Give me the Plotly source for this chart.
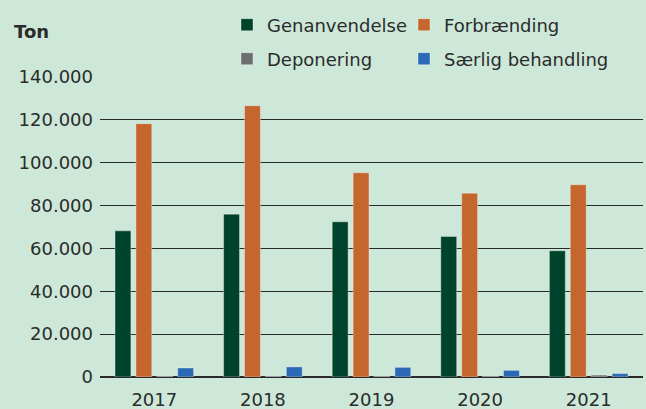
import plotly.graph_objects as go

years = ["2017", "2018", "2019", "2020", "2021"]
genanvendelse = [68200, 76000, 72400, 65600, 58900]
forbraending = [118200, 126600, 95300, 85800, 89700]
deponering = [300, 300, 300, 500, 900]
saerlig = [4200, 4700, 4500, 3100, 1600]

series_names = ["Genanvendelse", "Forbrænding", "Deponering", "Særlig behandling"]
colors = ["#00432c", "#c4662e", "#6d6e70", "#2b68b5"]
tick_vals = [0, 20000, 40000, 60000, 80000, 100000, 120000, 140000]
tick_text = ["0", "20.000", "40.000", "60.000", "80.000", "100.000", "120.000", "140.000"]

BG = "#cde8d8"
FONT = "DejaVu Sans"
TXT = "#2b2b2b"

fig = go.Figure()
data = [genanvendelse, forbraending, deponering, saerlig]
legend_ids = ["legend", "legend2", "legend3", "legend4"]
for name, vals, col, lg in zip(series_names, data, colors, legend_ids):
    fig.add_trace(go.Bar(
        x=years, y=vals, name=name,
        marker=dict(color=col, line=dict(color="rgba(255,255,255,0.35)", width=1)),
        legend=lg, showlegend=True,
    ))

legend_common = dict(
    orientation="h",
    xref="container", yref="container",
    xanchor="left", yanchor="middle",
    font=dict(family=FONT, size=18, color=TXT),
    bgcolor="rgba(0,0,0,0)",
    itemwidth=30,
)
col_x = [227 / 646, 404 / 646]
row_y = [1 - 25 / 409, 1 - 59 / 409]

fig.update_layout(
    width=646, height=409,
    showlegend=True,
    paper_bgcolor=BG, plot_bgcolor=BG,
    margin=dict(l=100, r=3, t=77, b=32, autoexpand=False),
    barmode="group",
    bargap=0.23, bargroupgap=0.24,
    font=dict(family=FONT, size=18, color=TXT),
    title=dict(
        text="<b>Ton</b>", xref="container", yref="container",
        x=14 / 646, y=1 - 32 / 409, xanchor="left", yanchor="middle",
        font=dict(family=FONT, size=18, color=TXT),
    ),
    legend=dict(x=col_x[0], y=row_y[0], **legend_common),
    legend2=dict(x=col_x[1], y=row_y[0], **legend_common),
    legend3=dict(x=col_x[0], y=row_y[1], **legend_common),
    legend4=dict(x=col_x[1], y=row_y[1], **legend_common),
    xaxis=dict(
        showgrid=False, showline=False, zeroline=False,
        ticks="outside", ticklen=6, tickcolor="rgba(0,0,0,0)",
        tickfont=dict(family=FONT, size=18, color=TXT),
    ),
    yaxis=dict(
        range=[0, 140000],
        tickvals=tick_vals, ticktext=tick_text,
        showgrid=True, gridcolor="#2a2a2a", gridwidth=1,
        zeroline=True, zerolinecolor="#2a2a2a", zerolinewidth=1.5,
        showline=False,
        ticks="", ticklabelstandoff=6,
        tickfont=dict(family=FONT, size=18, color=TXT),
    ),
)

fig.write_html(
    "out.html",
    config={"displayModeBar": False},
    post_script="document.body.style.margin='0';document.body.style.background='%s';" % BG,
)
